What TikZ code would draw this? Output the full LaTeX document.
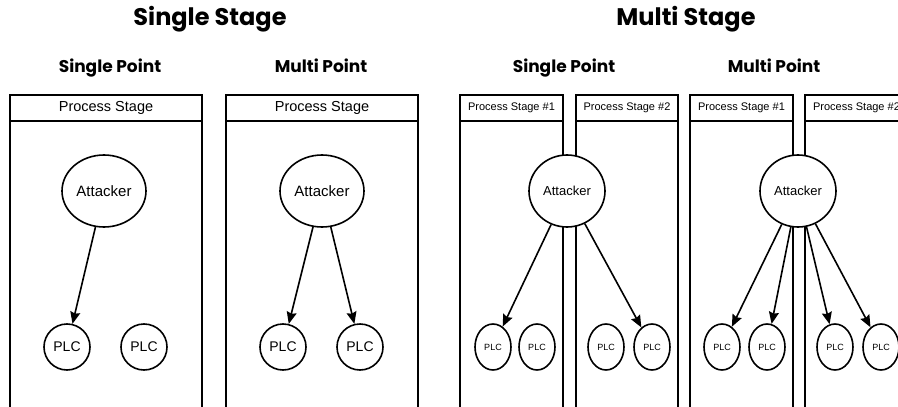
\documentclass[tikz,border=0pt]{standalone}
\usepackage{fontspec}
\setmainfont{Liberation Sans}
\newfontfamily\headfont{Poppins}
\usetikzlibrary{shapes.geometric,arrows.meta}

\tikzset{
  stagebox/.style={line width=1.8pt},
  hdr/.style={inner sep=0, font=\fontsize{14.5}{16}\selectfont},
  hdr small/.style={inner sep=0, font=\fontsize{11}{13}\selectfont},
  atk/.style={ellipse, draw, fill=white, line width=1.6pt, inner sep=0,
              minimum width=84pt, minimum height=72pt,
              font=\fontsize{15}{17}\selectfont},
  plc/.style={circle, draw, fill=white, line width=1.6pt, inner sep=0,
              minimum size=46pt, font=\fontsize{14}{16}\selectfont},
  plc small/.style={ellipse, draw, fill=white, line width=1.6pt, inner sep=0,
              minimum width=36pt, minimum height=46pt,
              font=\fontsize{9}{11}\selectfont},
  hit/.style={-{Stealth[length=12pt,width=10pt,inset=1.5pt]}, line width=1.6pt},
  ttl/.style={anchor=base, inner sep=0,
              font=\headfont\bfseries\fontsize{24}{28}\selectfont},
  subttl/.style={anchor=base, inner sep=0,
              font=\headfont\bfseries\fontsize{17}{20}\selectfont},
}

\begin{document}
\begin{tikzpicture}[x=1pt, y=-1pt]
    \clip (0,0) rectangle (898,407);
    \fill[white] (0,0) rectangle (898,407);

    % ======== TITLES ========
    \node[ttl] (ttlS) at (210, 25) {Single Stage};
    \node[ttl] (ttlM) at (686, 25) {Multi Stage};
    \foreach \x/\txt/\nm in {110/Single Point/a, 321/Multi Point/b,
                             564/Single Point/c, 774/Multi Point/d} {
      \node[subttl] (sub\nm) at (\x, 72) {\txt};
    }

    % ======== SINGLE STAGE boxes ========
    \foreach \l/\r/\nm in {10/202/a, 226/418/b} {
      \draw[stagebox] (\l, 420) -- (\l, 95) -- (\r, 95) -- (\r, 420);
      \draw[stagebox] (\l, 121) -- (\r, 121);
      \node[hdr] (hdr\nm) at ({(\l+\r)/2}, 108) {Process Stage};
    }

    % ======== MULTI STAGE boxes ========
    \foreach \l/\r/\n/\nm in {460/563/1/c, 576/678/2/d, 690/793/1/e, 805/908/2/f} {
      \draw[stagebox] (\l, 420) -- (\l, 95) -- (\r, 95) -- (\r, 420);
      \draw[stagebox] (\l, 121) -- (\r, 121);
      \node[hdr small] (hdr\nm) at ({(\l+\r)/2}, 108) {Process Stage \#\n};
    }

    % ======== single stage, single point ========
    \node[atk] (atkA) at (104, 191) {Attacker};
    \node[plc] (plcA1) at (67, 347) {PLC};
    \node[plc] (plcA2) at (144, 347) {PLC};
    \draw[hit] (atkA) -- (plcA1);

    % ======== single stage, multi point ========
    \node[atk] (atkB) at (322, 191) {Attacker};
    \node[plc] (plcB1) at (283, 347) {PLC};
    \node[plc] (plcB2) at (360, 347) {PLC};
    \draw[hit] (atkB) -- (plcB1);
    \draw[hit] (atkB) -- (plcB2);

    % ======== multi stage, single point ========
    \node[atk, minimum width=76pt, font=\fontsize{13}{15}\selectfont]
      (atkC) at (567, 191) {Attacker};
    \foreach \x [count=\i] in {493, 537, 606, 652}
      \node[plc small] (plcC\i) at (\x, 347) {PLC};
    \draw[hit] (atkC) -- (plcC1);
    \draw[hit] (atkC) -- (plcC4);

    % ======== multi stage, multi point ========
    \node[atk, minimum width=76pt, font=\fontsize{13}{15}\selectfont]
      (atkD) at (798, 191) {Attacker};
    \foreach \x [count=\i] in {722, 767, 835, 881}
      \node[plc small] (plcD\i) at (\x, 347) {PLC};
    \foreach \i in {1,...,4}
      \draw[hit] (atkD) -- (plcD\i);

\end{tikzpicture}
\end{document}
